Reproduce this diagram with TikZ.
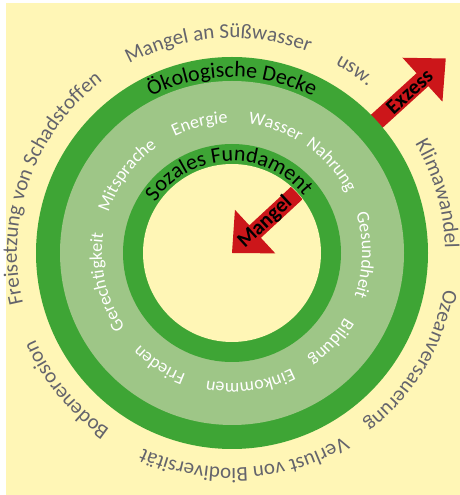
\documentclass[tikz,border=0pt]{standalone}
\usepackage{fontspec}
\setmainfont{Carlito}
\usetikzlibrary{decorations.text}
\definecolor{bgyellow}{RGB}{255,246,182}
\definecolor{darkgr}{RGB}{62,165,53}
\definecolor{lightgr}{RGB}{158,198,135}
\definecolor{arrred}{RGB}{204,22,26}
\definecolor{txtgrey}{RGB}{100,100,108}
\newcommand\OuterFmt{\fontsize{21}{21}\selectfont\color{txtgrey}}
\newcommand\RingFmt{\fontsize{22}{22}\selectfont\color{black}}
\newcommand\InnerFmt{\fontsize{18}{18}\selectfont\color{white}}
\newcommand\ArcText[4]{%
  \path[decorate,decoration={text along path,text align=center,text={|#3|#4}}]
    ([shift={(#1+70:#2)}]C) arc[start angle=#1+70,end angle=#1-70,radius=#2];}
\begin{document}
\begin{tikzpicture}[x=1pt,y=1pt,
  arrowlabel/.style={font=\fontsize{21}{21}\selectfont\bfseries,text=black,inner sep=0pt}]
\useasboundingbox (0,0) rectangle (460,495);
\fill[bgyellow] (6,0) rectangle (460,492);
\coordinate (C) at (232,242);
% Exzess arrow (under the rings)
\begin{scope}[shift={(C)},rotate=42.3]
  \fill[arrred] (175,-8.75) -- (257.5,-8.75) -- (257.5,-29.7) -- (289,0)
     -- (257.5,29.7) -- (257.5,8.75) -- (175,8.75) -- cycle;
  \node[arrowlabel,rotate=42.3] (exzess) at (240,0) {Exzess};
\end{scope}
% rings
\fill[darkgr] (C) circle[radius=196pt];
\fill[lightgr] (C) circle[radius=172pt];
\fill[darkgr] (C) circle[radius=109pt];
\fill[bgyellow] (C) circle[radius=89pt];
% Mangel arrow (inside the inner disc)
\begin{scope}
  \clip (C) circle[radius=88.5pt];
  \begin{scope}[shift={(C)},rotate=42.8]
    \fill[arrred] (0,0) -- (31.5,-29.7) -- (31.5,-8.5) -- (110,-8.5)
       -- (110,8.5) -- (31.5,8.5) -- (31.5,29.7) -- cycle;
    \node[arrowlabel,rotate=42.8] (mangel) at (45,0) {Mangel};
  \end{scope}
\end{scope}
% ring titles
\ArcText{90}{176pt}{\RingFmt}{Ökologische Decke}
\ArcText{92.5}{92pt}{\RingFmt}{Sozales Fundament}
% social foundation labels
\ArcText{143.5}{130pt}{\InnerFmt}{Mitsprache}
\ArcText{104}{130pt}{\InnerFmt}{Energie}
\ArcText{71}{130pt}{\InnerFmt}{Wasser}
\ArcText{41.6}{130pt}{\InnerFmt}{Nahrung}
\ArcText{-1}{130pt}{\InnerFmt}{Gesundheit}
\ArcText{-42}{130pt}{\InnerFmt}{Bildung}
\ArcText{-82}{130pt}{\InnerFmt}{Einkommen}
\ArcText{-123}{130pt}{\InnerFmt}{Frieden}
\ArcText{193}{130pt}{\InnerFmt}{Gerechtigkeit}
% ecological ceiling labels
\ArcText{93.8}{215pt}{\OuterFmt}{Mangel an Süßwasser}
\ArcText{56}{215pt}{\OuterFmt}{usw.}
\ArcText{16}{213pt}{\OuterFmt}{Klimawandel}
\ArcText{-31}{215pt}{\OuterFmt}{Ozeanversauerung}
\ArcText{-86.6}{215pt}{\OuterFmt}{Verlust von Biodiversität}
\ArcText{-140.5}{215pt}{\OuterFmt}{Bodenerosion}
\ArcText{160.3}{215pt}{\OuterFmt}{Freisetzung von Schadstoffen}
\end{tikzpicture}
\end{document}
